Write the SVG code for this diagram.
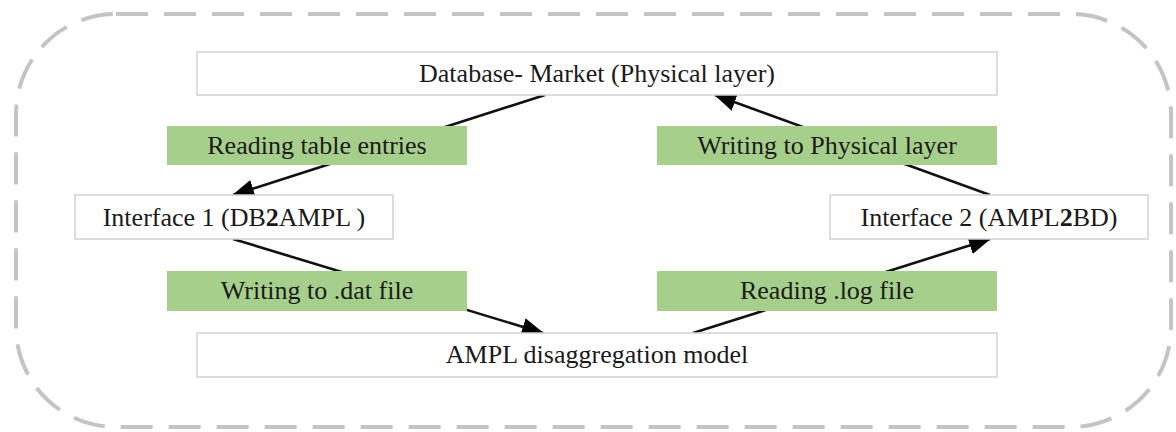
<svg xmlns="http://www.w3.org/2000/svg" width="1176" height="432" viewBox="0 0 1176 432">
<style>
.box{fill:#fff;stroke:#d2d2d2;stroke-width:1.5}
.lab{fill:#a6cf8b}
.t{font-family:"Liberation Serif","Times New Roman",serif;font-size:26px;fill:#1a1a1a;text-anchor:middle}
.c{stroke:#111;stroke-width:2.6;fill:none}
</style>
<defs>
<marker id="ah" viewBox="0 0 22 18" refX="21" refY="9" markerWidth="22" markerHeight="18" markerUnits="userSpaceOnUse" orient="auto">
<path d="M0,0 L22,9 L0,18 Z" fill="#000"/>
</marker>
</defs>
<rect x="16" y="14" width="1155" height="413" rx="100" ry="100" fill="none" stroke="#c4c4c4" stroke-width="4" stroke-dasharray="32 16"/>
<g id="connectors">
<line class="c" x1="545" y1="95" x2="233" y2="195" marker-end="url(#ah)"/>
<line class="c" x1="233" y1="239" x2="543" y2="333" marker-end="url(#ah)"/>
<line class="c" x1="693" y1="333" x2="990" y2="239" marker-end="url(#ah)"/>
<line class="c" x1="990" y1="195" x2="715" y2="95" marker-end="url(#ah)"/>
</g>
<g id="db">
<rect class="box" x="197" y="52" width="800" height="43"/>
<text class="t" x="597" y="82">Database- Market (Physical layer)</text>
</g>
<g id="lab-read-table">
<rect class="lab" x="167" y="126" width="300" height="39"/>
<text class="t" x="317" y="154">Reading table entries</text>
</g>
<g id="lab-write-phys">
<rect class="lab" x="657" y="126" width="340" height="39"/>
<text class="t" x="827" y="154">Writing to Physical layer</text>
</g>
<g id="if1">
<rect class="box" x="75" y="195" width="318" height="44"/>
<text class="t" x="234" y="226">Interface 1 (DB<tspan font-weight="bold">2</tspan>AMPL )</text>
</g>
<g id="if2">
<rect class="box" x="830" y="195" width="318" height="44"/>
<text class="t" x="989" y="226">Interface 2 (AMPL<tspan font-weight="bold">2</tspan>BD)</text>
</g>
<g id="lab-write-dat">
<rect class="lab" x="167" y="271" width="300" height="40"/>
<text class="t" x="317" y="299">Writing to .dat file</text>
</g>
<g id="lab-read-log">
<rect class="lab" x="657" y="271" width="340" height="40"/>
<text class="t" x="827" y="299">Reading .log file</text>
</g>
<g id="ampl">
<rect class="box" x="197" y="333" width="800" height="44"/>
<text class="t" x="597" y="363">AMPL disaggregation model</text>
</g>
</svg>
